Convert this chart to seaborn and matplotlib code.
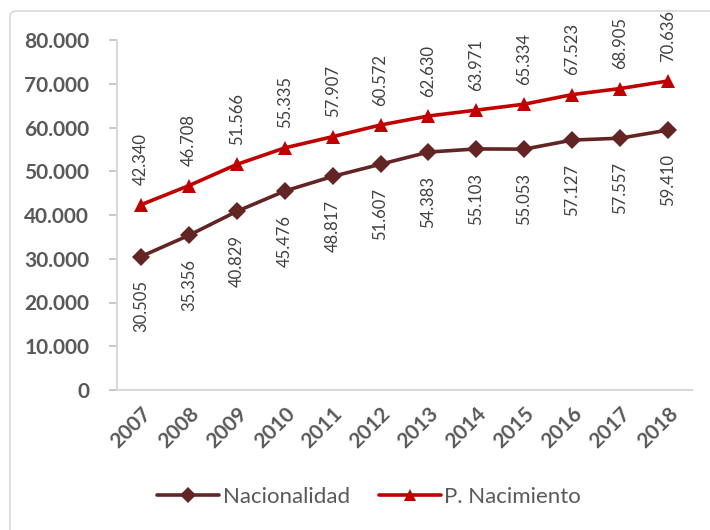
import pandas as pd
import numpy as np
import matplotlib.pyplot as plt
import matplotlib.patches as patches
import seaborn as sns

# Data
years = ['2007', '2008', '2009', '2010', '2011', '2012',
         '2013', '2014', '2015', '2016', '2017', '2018']
nacionalidad = [30505, 35356, 40829, 45476, 48817, 51607,
                54383, 55103, 55053, 57127, 57557, 59410]
nacimiento = [42340, 46708, 51566, 55335, 57907, 60572,
              62630, 63971, 65334, 67523, 68905, 70636]
series_names = ['Nacionalidad', 'P. Nacimiento']
y_ticks = [0, 10000, 20000, 30000, 40000, 50000, 60000, 70000, 80000]

sns.set_style('white')
plt.rcParams['font.family'] = ['Lato', 'DejaVu Sans']

df = pd.DataFrame({
    'year': years * 2,
    'value': nacionalidad + nacimiento,
    'serie': [series_names[0]] * len(years) + [series_names[1]] * len(years),
})

colors = {'Nacionalidad': '#632523', 'P. Nacimiento': '#C00000'}
markers = {'Nacionalidad': 'D', 'P. Nacimiento': '^'}


def fmt(v):
    return f'{v:,}'.replace(',', '.')


fig = plt.figure(figsize=(7.1, 5.3), dpi=100)
ax = fig.add_axes([117 / 710, 1 - 390 / 530, 575 / 710, 350 / 530])

sns.lineplot(data=df, x='year', y='value', hue='serie', style='serie',
             palette=colors, markers=markers, dashes=False,
             linewidth=2.6, markersize=9.5, markeredgewidth=0,
             sort=False, ax=ax)

# Data labels: below for Nacionalidad, above for P. Nacimiento
for i, v in enumerate(nacionalidad):
    ax.annotate(fmt(v), (i, v), xytext=(0, -17), textcoords='offset points',
                rotation=90, ha='center', va='top', fontsize=12,
                color='#404040')
for i, v in enumerate(nacimiento):
    ax.annotate(fmt(v), (i, v), xytext=(0, 14), textcoords='offset points',
                rotation=90, ha='center', va='bottom', fontsize=12,
                color='#404040')

ax.set_xlim(-0.5, len(years) - 0.5)
ax.set_ylim(0, 80000)
ax.set_yticks(y_ticks)
ax.set_yticklabels([fmt(t) for t in y_ticks], fontsize=15,
                   fontweight='bold', color='#595959')
ax.set_xticks(range(len(years)))
ax.set_xticklabels(years, rotation=45, ha='right', rotation_mode='anchor',
                   fontsize=15, fontweight='bold', color='#595959')
ax.tick_params(axis='y', length=6, width=1.2, color='#BFBFBF', pad=14,
               left=True)
ax.tick_params(axis='x', length=0, pad=10)
ax.set_xlabel('')
ax.set_ylabel('')

for side in ['top', 'right']:
    ax.spines[side].set_visible(False)
for side in ['left', 'bottom']:
    ax.spines[side].set_color('#D9D9D9')
    ax.spines[side].set_linewidth(1.5)

# Legend at the bottom
handles, labels = ax.get_legend_handles_labels()
ax.legend_.remove()
for h in handles:
    h.set_markersize(8)
fig.legend(handles, labels, loc='center', bbox_to_anchor=(0.52, 1 - 497 / 530),
           ncol=2, frameon=False, fontsize=16, handlelength=2.8,
           columnspacing=1.3, handletextpad=0.15, labelcolor='#595959')

# Chart area border
border = patches.FancyBboxPatch((10 / 710, -0.1), 1.1, 1.1 - 11 / 530,
                                boxstyle='round,pad=0,rounding_size=0.01',
                                transform=fig.transFigure, fill=False,
                                edgecolor='#D9D9D9', linewidth=1.2)
fig.patches.append(border)

fig.savefig('out.png', dpi=100)
